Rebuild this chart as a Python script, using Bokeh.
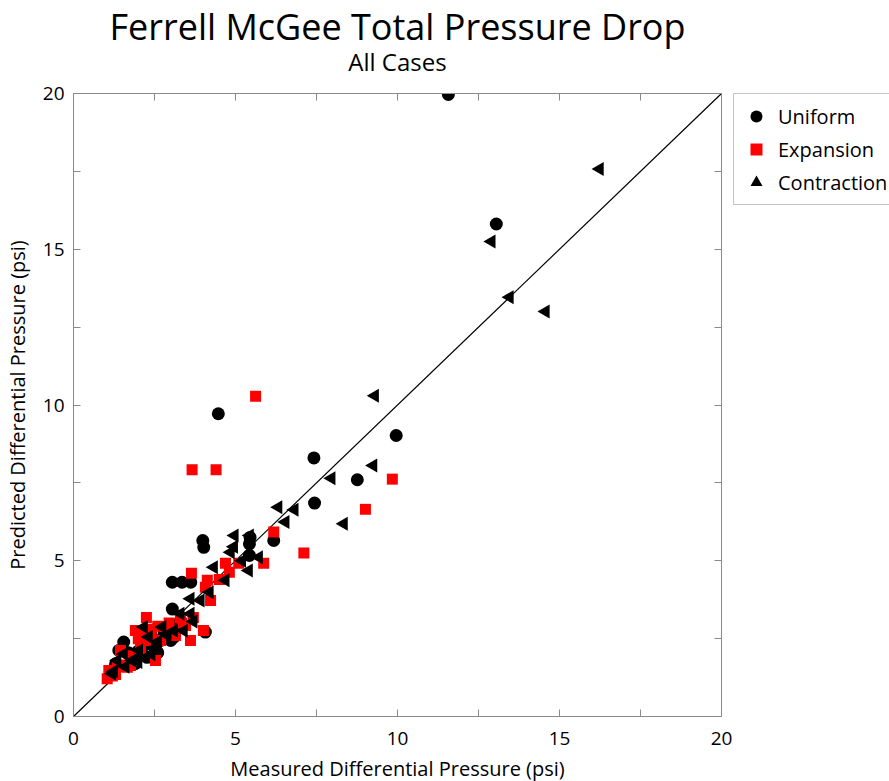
import math
from bokeh.plotting import figure
from bokeh.layouts import row, column
from bokeh.models import (Label, Legend, LegendItem, LinearAxis, FixedTicker, Range1d)
from bokeh.embed import file_html
from bokeh.resources import INLINE

# ---- data ----
uniform_x = [11.57, 13.05, 9.96, 8.76, 7.42, 7.44, 6.18, 4.47, 3.99, 4.02, 5.43, 5.43, 5.45,
             3.05, 3.35, 3.62, 3.05, 4.07, 3.00, 2.69, 1.55, 1.40, 1.30, 1.22, 2.27, 2.50,
             2.80, 2.90, 2.20, 1.80, 1.70, 2.00, 2.40, 3.20, 2.60, 3.10, 1.90, 2.75]
uniform_y = [19.97, 15.81, 9.02, 7.60, 8.30, 6.85, 5.65, 9.72, 5.65, 5.43, 5.54, 5.17, 5.75,
             4.31, 4.31, 4.31, 3.45, 2.71, 2.44, 2.44, 2.39, 2.12, 1.69, 1.50, 1.90, 2.20,
             2.70, 2.90, 2.30, 1.90, 2.05, 2.10, 2.60, 2.95, 2.05, 2.55, 1.70, 2.50]

expansion_x = [5.62, 3.66, 4.40, 9.84, 9.01, 7.11, 6.18, 5.87, 4.69, 5.10, 3.64, 4.81, 4.13,
               4.07, 4.23, 4.01, 3.30, 3.70, 2.25, 1.91, 1.45, 1.66, 1.09, 1.04, 2.22, 2.69,
               2.84, 3.15, 2.53, 1.76, 2.07, 3.46, 3.61, 1.30, 1.20, 2.40, 2.95, 4.50, 2.10,
               1.50, 1.75, 2.00, 2.35, 2.60, 3.00, 3.35, 1.35]
expansion_y = [10.28, 7.92, 7.92, 7.62, 6.65, 5.25, 5.92, 4.92, 4.92, 4.92, 4.60, 4.63, 4.37,
               4.15, 3.72, 2.76, 3.18, 3.18, 3.18, 2.76, 2.12, 1.58, 1.48, 1.21, 2.44, 2.44,
               2.89, 2.60, 1.80, 1.64, 2.18, 2.92, 2.44, 1.35, 1.30, 2.60, 3.00, 4.40, 2.70,
               1.65, 1.95, 2.50, 2.80, 2.90, 2.70, 3.00, 1.60]

contraction_x = [16.24, 12.90, 13.46, 14.57, 9.30, 9.25, 7.96, 8.34, 6.32, 6.82, 6.54, 4.97,
                 5.44, 4.85, 5.72, 5.41, 4.33, 4.69, 4.20, 3.92, 3.61, 3.61, 3.30, 1.19, 1.35,
                 1.55, 1.81, 2.02, 2.32, 2.17, 2.74, 2.50, 2.90, 3.10, 2.60, 2.00, 1.60, 1.25,
                 3.40, 3.70, 2.40, 5.20, 4.95]
contraction_y = [17.58, 15.25, 13.46, 13.00, 10.30, 8.06, 7.65, 6.19, 6.72, 6.64, 6.24, 5.81,
                 5.81, 5.27, 5.11, 4.69, 4.79, 4.37, 3.99, 3.72, 3.78, 3.30, 3.30, 1.37, 1.80,
                 2.01, 1.80, 2.12, 2.55, 2.87, 2.87, 2.20, 2.60, 2.75, 2.40, 1.75, 1.60, 1.45,
                 2.75, 3.05, 2.00, 5.00, 5.45]

series_names = ["Uniform", "Expansion", "Contraction"]
diag = [0, 20]
x_ticks = [0, 5, 10, 15, 20]
minor = [2.5, 7.5, 12.5, 17.5]

FONT = "Open Sans"
GRAY = "#8a8a8a"
W = 889
TOP_H = 83
MAIN_W, MAIN_H = 733, 676
BOT_H = 781 - TOP_H - MAIN_H


def strip(width, height):
    f = figure(width=width, height=height, output_backend="svg", toolbar_location=None,
               x_range=Range1d(0, width), y_range=Range1d(0, height),
               x_axis_type=None, y_axis_type=None,
               min_border_left=0, min_border_right=0, min_border_top=0, min_border_bottom=0)
    f.xgrid.visible = False
    f.ygrid.visible = False
    f.outline_line_color = None
    f.background_fill_color = "white"
    f.border_fill_color = "white"
    return f


# ---- title strip ----
top = strip(W, TOP_H)
top.add_layout(Label(x=397, y=TOP_H - 26, text="Ferrell McGee Total Pressure Drop",
                     text_align="center", text_baseline="alphabetic", text_font=FONT,
                     text_font_size="36px", text_color="black"))
top.add_layout(Label(x=397, y=TOP_H - 61, text="All Cases", text_align="center",
                     text_baseline="alphabetic", text_font=FONT, text_font_size="24px",
                     text_color="black"))

# ---- main plot ----
p = figure(width=MAIN_W, height=MAIN_H, output_backend="svg", toolbar_location=None,
           x_range=Range1d(0, 20), y_range=Range1d(0, 20),
           min_border_left=73, min_border_right=12, min_border_top=10, min_border_bottom=43,
           y_axis_label="Predicted Differential Pressure (psi)")
p.xgrid.visible = False
p.ygrid.visible = False
p.outline_line_color = GRAY
p.outline_line_width = 1
p.background_fill_color = "white"
p.border_fill_color = "white"

for ax in (p.xaxis[0], p.yaxis[0]):
    ax.ticker = FixedTicker(ticks=x_ticks, minor_ticks=minor)
    ax.axis_line_color = GRAY
    ax.major_tick_line_color = GRAY
    ax.minor_tick_line_color = GRAY
    ax.major_tick_in = 7
    ax.major_tick_out = 0
    ax.minor_tick_in = 7
    ax.minor_tick_out = 0
    ax.major_label_text_font = FONT
    ax.major_label_text_font_size = "19px"
    ax.major_label_text_color = "black"
    ax.axis_label_text_font = FONT
    ax.axis_label_text_font_size = "20px"
    ax.axis_label_text_font_style = "normal"
    ax.axis_label_text_color = "black"
p.xaxis.major_label_standoff = 15
p.yaxis.major_label_standoff = 9
p.yaxis.axis_label_standoff = 9

for loc in ("above", "right"):
    ax = LinearAxis(ticker=FixedTicker(ticks=x_ticks, minor_ticks=minor),
                    axis_line_color=GRAY, major_tick_line_color=GRAY, minor_tick_line_color=GRAY,
                    major_tick_in=7, major_tick_out=0, minor_tick_in=7, minor_tick_out=0,
                    major_label_text_font_size="0px", major_label_standoff=0)
    p.add_layout(ax, loc)

p.line(diag, diag, line_color="black", line_width=1.2)

p.scatter(uniform_x, uniform_y, marker="circle", size=13, fill_color="black", line_color=None)
p.scatter(expansion_x, expansion_y, marker="square", size=11, fill_color="red", line_color=None)
p.scatter(contraction_x, contraction_y, marker="triangle", size=14, angle=math.pi / 2,
          fill_color="black", line_color=None)

# ---- legend strip to the right of the plot ----
lf = strip(W - MAIN_W, MAIN_H)
# legend proxies: one point each, kept outside the visible range
proxy = [-100]
g_u = lf.scatter(proxy, proxy, marker="circle", fill_color="black", line_color=None)
g_e = lf.scatter(proxy, proxy, marker="square", fill_color="red", line_color=None)
g_c = lf.scatter(proxy, proxy, marker="triangle", angle=math.pi / 2, fill_color="black",
                 line_color=None)

legend = Legend(items=[LegendItem(label=series_names[0], renderers=[g_u]),
                       LegendItem(label=series_names[1], renderers=[g_e]),
                       LegendItem(label=series_names[2], renderers=[g_c])],
                location="top_left")
legend.label_text_font = FONT
legend.label_text_font_size = "20px"
legend.label_text_color = "black"
legend.border_line_color = GRAY
legend.border_line_width = 1
legend.padding = 7
legend.spacing = 3
legend.glyph_width = 30
legend.glyph_height = 30
legend.label_height = 20
legend.label_standoff = 7
legend.margin = 0
legend.background_fill_color = "white"
lf.add_layout(legend, "center")

# ---- x axis title strip ----
bot = strip(W, BOT_H)
bot.add_layout(Label(x=397, y=13, text="Measured Differential Pressure (psi)",
                     text_align="center", text_baseline="middle", text_font=FONT,
                     text_font_size="20px", text_color="black"))

layout = column(top, row(p, lf), bot)
open("out.html", "w").write(file_html(layout, INLINE))
